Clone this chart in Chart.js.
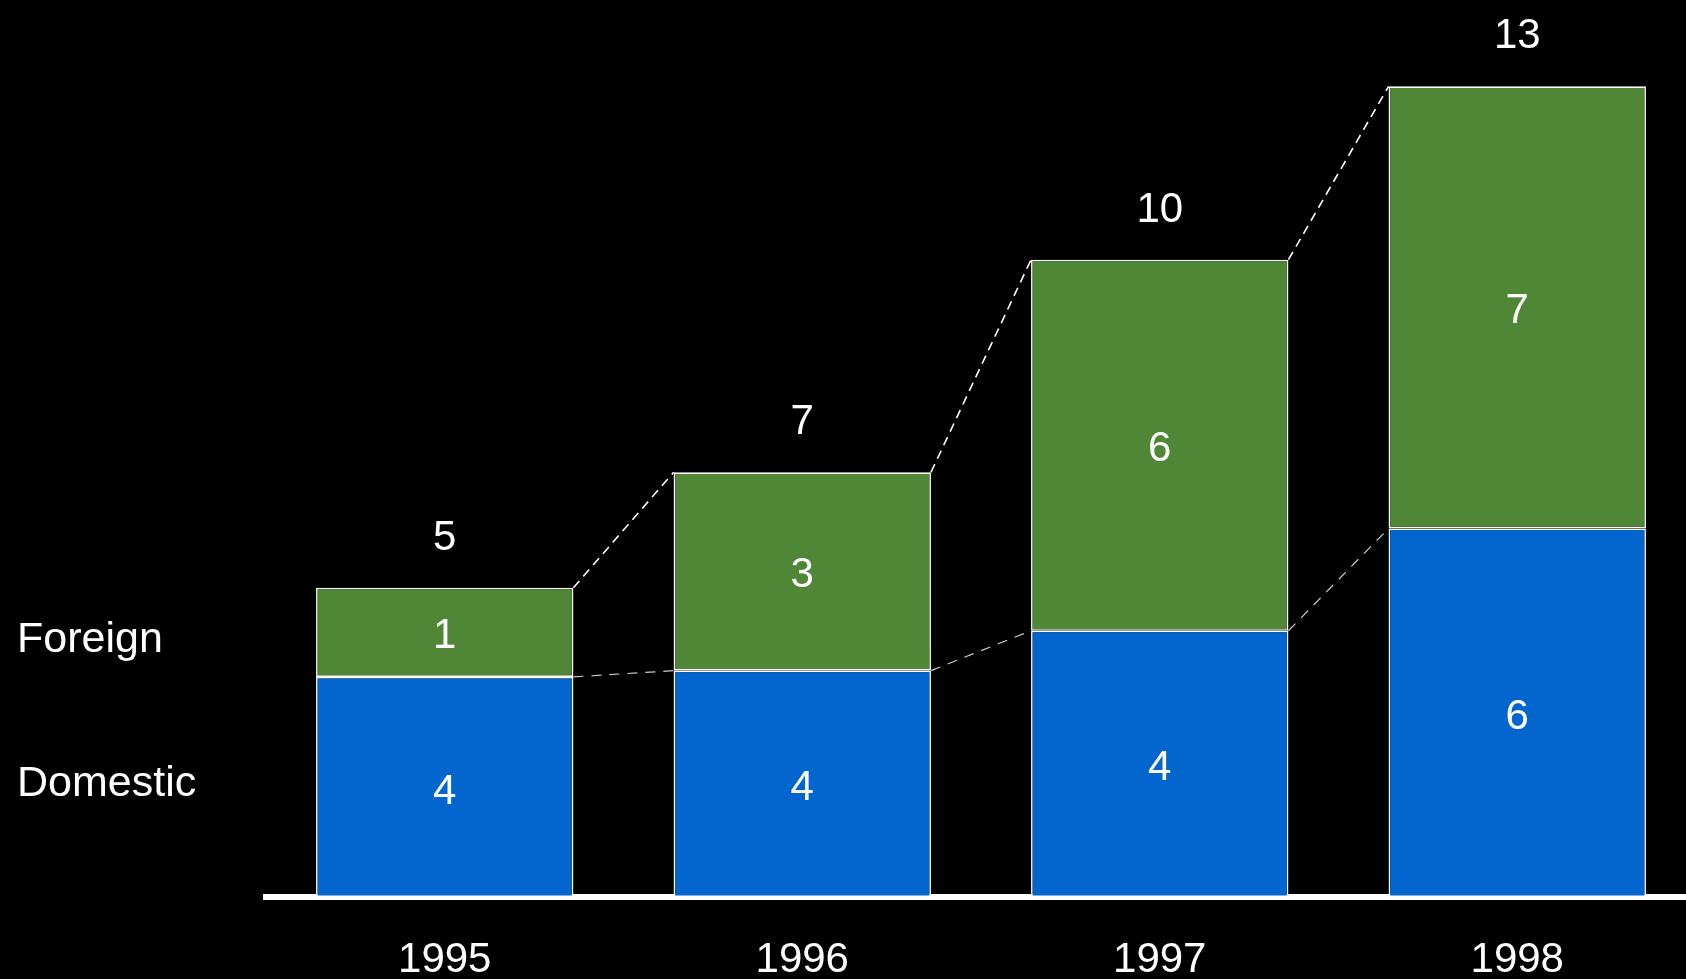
<!DOCTYPE html>
<html>
<head>
<meta charset="utf-8">
<script src="https://cdn.jsdelivr.net/npm/chart.js@4"></script>
<style>
    html, body { margin: 0; padding: 0; background: #000; overflow: hidden; }
    #chart { display: block; }
</style>
</head>
<body>
<canvas id="chart" width="1696" height="979"></canvas>
<script>
    // values (segment heights), plus the rounded labels shown
    const years = ['1995', '1996', '1997', '1998'];
    const domestic = [3.53, 3.63, 4.27, 5.91];
    const foreign = [1.43, 3.18, 5.95, 7.09];
    const domesticLabels = ['4', '4', '4', '6'];
    const foreignLabels = ['1', '3', '6', '7'];
    const totalLabels = ['5', '7', '10', '13'];
    const seriesNames = ['Domestic', 'Foreign'];

    const FONT = '"Liberation Sans", Arial, sans-serif';
    Chart.defaults.font.family = FONT;

    // dashed connectors, labels in segments, totals and series names
    const overlay = {
        id: 'overlay',
        afterDatasetsDraw(chart) {
            const c = chart.ctx;
            const dom = chart.getDatasetMeta(0).data;
            const fgn = chart.getDatasetMeta(1).data;

            c.save();
            // connectors
            const connect = (bars, color, width, dash) => {
                c.strokeStyle = color;
                c.lineWidth = width;
                c.setLineDash(dash);
                for (let i = 0; i < bars.length - 1; i++) {
                    const a = bars[i], b = bars[i + 1];
                    c.beginPath();
                    c.moveTo(a.x + a.width / 2, a.y);
                    c.lineTo(b.x - b.width / 2, b.y);
                    c.stroke();
                }
            };
            connect(fgn, '#ffffff', 1.6, [9, 6]);
            connect(dom, 'rgba(255,255,255,0.8)', 1.2, [10, 8]);
            c.setLineDash([]);

            c.fillStyle = '#ffffff';
            c.font = '42px ' + FONT;
            c.textAlign = 'center';
            c.textBaseline = 'middle';
            dom.forEach((b, i) => c.fillText(domesticLabels[i], b.x, (b.y + b.base) / 2 + 5));
            fgn.forEach((b, i) => c.fillText(foreignLabels[i], b.x, (b.y + b.base) / 2 + 4));

            c.textBaseline = 'alphabetic';
            fgn.forEach((b, i) => c.fillText(totalLabels[i], b.x, b.y - 38));

            // series names on the left
            c.font = '43px ' + FONT;
            c.textAlign = 'left';
            c.textBaseline = 'middle';
            c.fillText(seriesNames[1], 17, (fgn[0].y + fgn[0].base) / 2 + 8);
            c.fillText(seriesNames[0], 17, (dom[0].y + dom[0].base) / 2 - 3);
            c.restore();
        }
    };

    const ctx = document.getElementById('chart').getContext('2d');
    const chart = new Chart(ctx, {
        type: 'bar',
        data: {
            labels: years,
            datasets: [{
                label: seriesNames[0],
                data: domestic,
                backgroundColor: 'rgb(3, 102, 206)',
                borderColor: '#ffffff',
                borderWidth: 1.6,
                borderSkipped: false
            }, {
                label: seriesNames[1],
                data: foreign,
                backgroundColor: 'rgb(80, 135, 55)',
                borderColor: '#ffffff',
                borderWidth: 1.6,
                borderSkipped: false
            }]
        },
        options: {
            responsive: false,
            animation: false,
            layout: { padding: { left: 266, top: 24, right: 0, bottom: 0 } },
            datasets: { bar: { categoryPercentage: 1, barPercentage: 0.72 } },
            plugins: { legend: { display: false }, tooltip: { enabled: false } },
            scales: {
                x: {
                    stacked: true,
                    grid: { display: false, drawTicks: false },
                    border: { display: true, color: '#ffffff', width: 6 },
                    ticks: { color: '#ffffff', font: { size: 42 }, padding: 38 },
                    afterFit: s => { s.height = 82; }
                },
                y: {
                    stacked: true,
                    display: false,
                    min: 0,
                    max: 14
                }
            }
        },
        plugins: [overlay]
    });
</script>
</body>
</html>
